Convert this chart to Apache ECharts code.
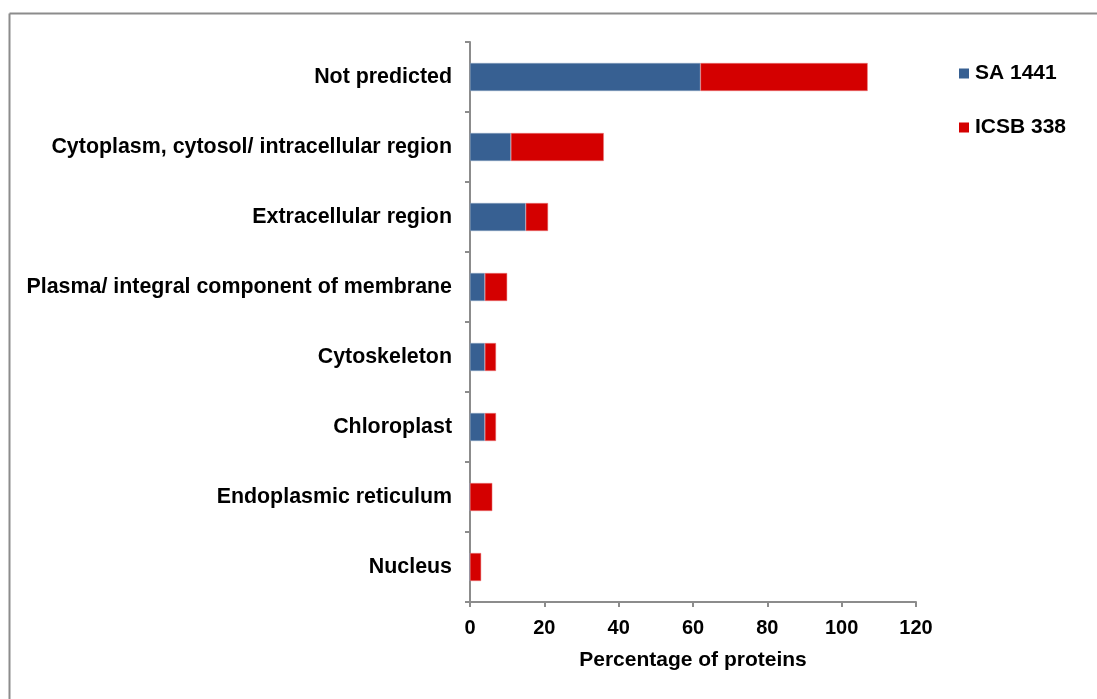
<!DOCTYPE html>
<html><head><meta charset="utf-8">
<script src="https://cdn.jsdelivr.net/npm/echarts@6/dist/echarts.min.js"></script>
<style>html,body{margin:0;padding:0;background:#fff}#c{width:1097px;height:699px}</style>
</head><body><div id="c"></div>
<script>
const categories = ["Not predicted","Cytoplasm, cytosol/ intracellular region","Extracellular region","Plasma/ integral component of membrane","Cytoskeleton","Chloroplast","Endoplasmic reticulum","Nucleus"];
const sa1441 = [62, 11, 15, 4, 4, 4, 0, 0];
const icsb338 = [45, 25, 6, 6, 3, 3, 6, 3];
const xTicks = [0, 20, 40, 60, 80, 100, 120];

const font = 'Arial, "Liberation Sans", sans-serif';
const chart = echarts.init(document.getElementById('c'));
chart.setOption({
  animation: false,
  backgroundColor: '#fff',
  graphic: [
    {type:'line', shape:{x1:9.5,y1:13.5,x2:1097,y2:13.5}, style:{stroke:'#8c8c8c', lineWidth:2}},
    {type:'line', shape:{x1:9.5,y1:13.5,x2:9.5,y2:699}, style:{stroke:'#8c8c8c', lineWidth:2}}
  ],
  grid: {left: 470, right: 181, top: 42, bottom: 97, containLabel: false},
  legend: {
    orient: 'vertical', left: 954, top: 58, itemWidth: 10, itemHeight: 10, itemGap: 33,
    icon: 'rect',
    itemStyle: {borderWidth: 0},
    textStyle: {fontFamily: font, fontWeight: 'bold', fontSize: 21, color: '#000', padding:[0,0,0,1]},
    data: ['SA 1441', 'ICSB 338']
  },
  xAxis: {
    type: 'value', min: xTicks[0], max: xTicks[xTicks.length-1], interval: 20,
    name: 'Percentage of proteins', nameLocation: 'middle', nameGap: 48,
    nameTextStyle: {fontFamily: font, fontWeight: 'bold', fontSize: 21, color: '#000'},
    axisLine: {show: true, lineStyle: {color: '#8c8c8c', width: 2}},
    axisTick: {show: true, length: 5, lineStyle: {color: '#8c8c8c', width: 2}},
    axisLabel: {fontFamily: font, fontWeight: 'bold', fontSize: 20, color: '#000', margin: 16},
    splitLine: {show: false}
  },
  yAxis: {
    type: 'category', data: categories, inverse: true,
    axisLine: {show: true, lineStyle: {color: '#8c8c8c', width: 2}},
    axisTick: {show: true, length: 5, lineStyle: {color: '#8c8c8c', width: 2}},
    axisLabel: {fontFamily: font, fontWeight: 'bold', fontSize: 21.4, color: '#000', margin: 18},
    splitLine: {show: false}
  },
  series: [
    {name: 'SA 1441', type: 'bar', stack: 't', data: sa1441, barWidth: '40%',
     itemStyle: {color: '#376092', borderColor: '#8fa6c4', borderWidth: 0.5}},
    {name: 'ICSB 338', type: 'bar', stack: 't', data: icsb338, barWidth: '40%',
     itemStyle: {color: '#D40000', borderColor: '#ec8080', borderWidth: 0.5}}
  ]
});
</script></body></html>
